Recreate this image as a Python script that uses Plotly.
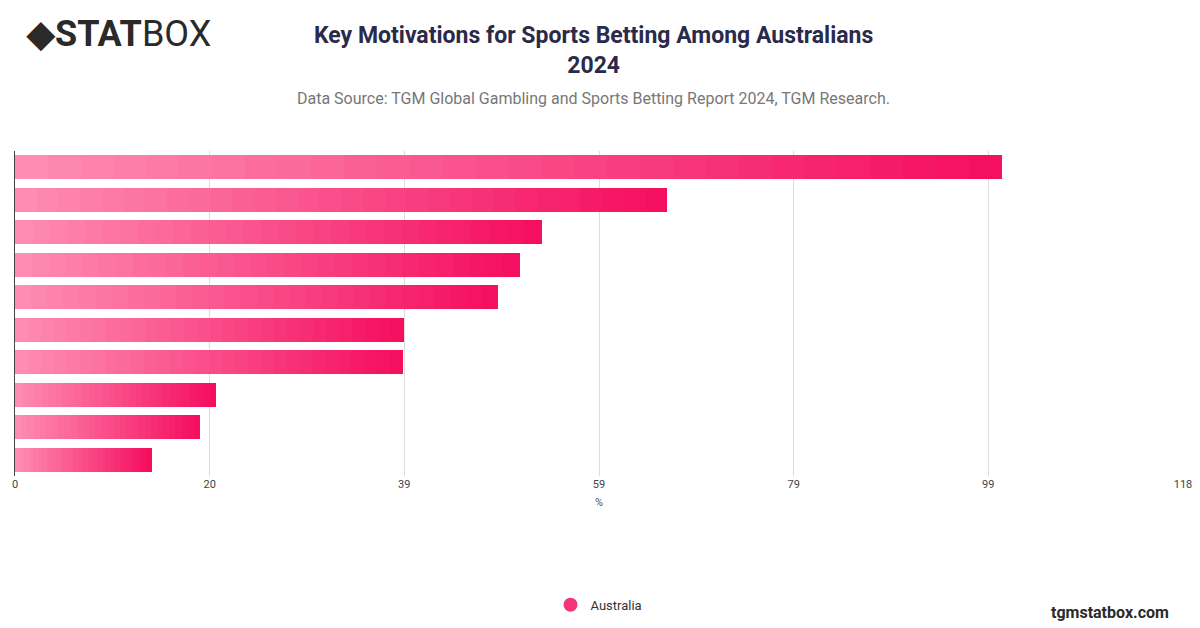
import plotly.graph_objects as go

# motivations (labels not shown in the chart), ordered top to bottom
categories = ["M1", "M2", "M3", "M4", "M5", "M6", "M7", "M8", "M9", "M10"]
values = [99.7, 65.9, 53.2, 51.0, 48.8, 39.3, 39.2, 20.3, 18.7, 13.8]
tick_vals = [0, 19.67, 39.33, 59, 78.67, 98.33, 118]
tick_text = ["0", "20", "39", "59", "79", "99", "118"]

n_seg = 30
c0 = (255, 140, 178)
c1 = (245, 15, 96)

fig = go.Figure()
for i in range(n_seg):
    t = i / (n_seg - 1)
    col = "rgb(%d,%d,%d)" % tuple(int(a + (b - a) * t) for a, b in zip(c0, c1))
    fig.add_trace(go.Bar(
        y=categories, x=[v / n_seg for v in values], orientation="h",
        marker=dict(color=col, line=dict(width=0)), showlegend=False,
        hoverinfo="skip"))

fig.add_trace(go.Scatter(x=[None], y=[None], mode="markers", name="Australia",
                         marker=dict(symbol="circle", size=14, color="#F5357A")))

fig.update_layout(
    barmode="stack", bargap=0.27,
    width=1200, height=628, plot_bgcolor="white", paper_bgcolor="white",
    margin=dict(l=4, r=25, t=143, b=160),
    font=dict(family="Roboto, Arial", color="#333"),
    legend=dict(orientation="h", x=0.5, xanchor="center", y=-0.35, yanchor="top",
                font=dict(size=13, color="#333")),
    showlegend=True,
)
fig.update_xaxes(range=[0, 118], tickvals=tick_vals, ticktext=tick_text,
                 showgrid=True, gridcolor="#dddddd", zeroline=False,
                 tickfont=dict(size=11, color="#444"),
                 title=dict(text="%", font=dict(size=11, color="#555"), standoff=8))
fig.update_yaxes(autorange="reversed", showticklabels=False, showgrid=False,
                 showline=True, linecolor="#444", linewidth=1)

fig.add_annotation(text="<b>Key Motivations for Sports Betting Among Australians<br>2024</b>",
                   xref="paper", yref="paper", x=0.495, y=1.31, showarrow=False,
                   xanchor="center", yanchor="middle",
                   font=dict(size=23, color="#2a2a4a"))
fig.add_annotation(text="Data Source: TGM Global Gambling and Sports Betting Report 2024, TGM Research.",
                   xref="paper", yref="paper", x=0.495, y=1.163, showarrow=False,
                   font=dict(size=16, color="#777"), xanchor="center", yanchor="middle")
fig.add_annotation(text="<b>◆STAT</b>BOX", xref="paper", yref="paper", x=0.008, y=1.36,
                   xanchor="left", yanchor="middle", showarrow=False,
                   font=dict(size=36, color="#2a2a2a"))
fig.add_annotation(text="<b>tgmstatbox.com</b>", xref="paper", yref="paper", x=0.99, y=-0.455,
                   xanchor="right", showarrow=False, font=dict(size=16, color="#2a2a2a"))

fig.write_html("out.html")
